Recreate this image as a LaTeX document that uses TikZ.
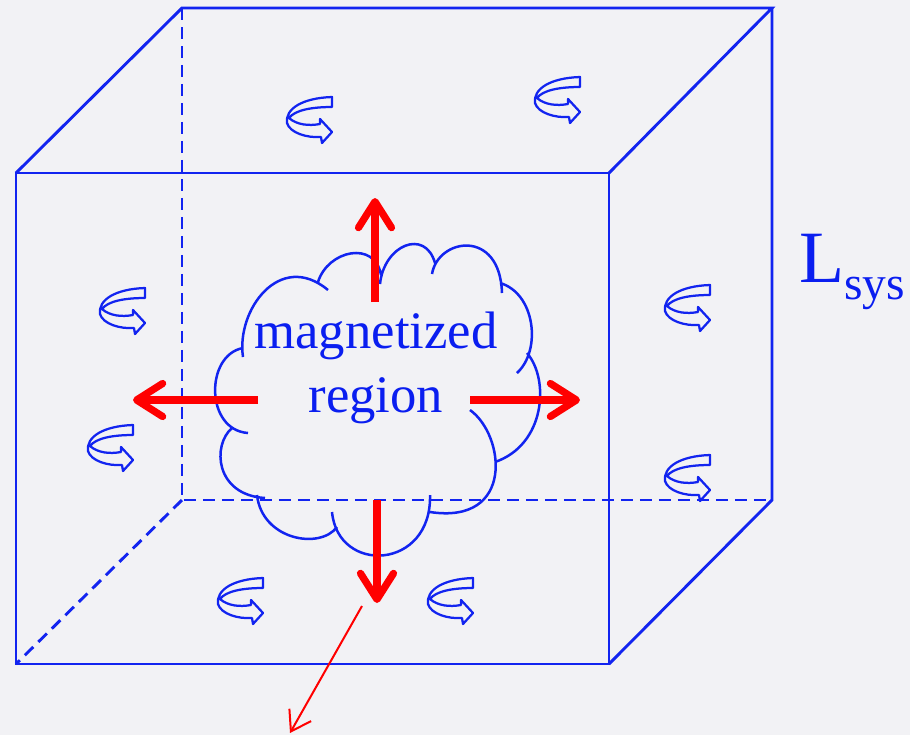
\documentclass[tikz,border=0pt]{standalone}
\usepackage{fontspec}
\setmainfont{Liberation Serif}
\usetikzlibrary{arrows.meta}
\definecolor{bg}{RGB}{242,242,245}
\definecolor{lineblue}{RGB}{18,36,240}
\definecolor{textblue}{RGB}{10,30,240}
\definecolor{fieldred}{RGB}{255,0,0}

\begin{document}
\begin{tikzpicture}[x=0.02cm,y=-0.02cm,
  edge/.style={draw=lineblue, line width=0.058cm, line join=miter},
  hidden/.style={edge, dash pattern=on 0.24cm off 0.14cm},
  outline/.style={draw=lineblue, line width=0.05cm},
  spinline/.style={draw=lineblue, line width=0.045cm, line join=round},
  flux/.style={draw=fieldred, line width=0.145cm, -{Straight Barb[length=0.52cm,width=0.66cm,round]}},
  leak/.style={draw=fieldred, line width=0.04cm, -{Straight Barb[length=0.38cm,width=0.5cm]}},
  spin/.pic={
    \draw[spinline] (45,0) -- (45,10)
      .. controls (25,10) and (8,13) .. (2,21)
      .. controls (10,28) and (22,29) .. (33,27)
      -- (33,22) -- (45,35) -- (35,46) -- (34,40)
      .. controls (20,41) and (3,36) .. (0,26)
      .. controls (-2,12) and (15,1) .. (45,0) -- cycle;
  }
]
% canvas
\fill[bg] (0,0) rectangle (910,735);
\useasboundingbox (0,0) rectangle (910,735);

% cube corners
\coordinate (fTL) at (16,173);
\coordinate (fTR) at (609,173);
\coordinate (fBR) at (609,664);
\coordinate (fBL) at (16,664);
\coordinate (bTL) at (182,8);
\coordinate (bTR) at (772,8);
\coordinate (bBR) at (772,500);
\coordinate (bBL) at (182,500);

% hidden edges
\draw[hidden] (bTL) -- (bBL) -- (bBR);
\draw[hidden] (bBL) -- (fBL);

% visible edges
\draw[edge] (fTL) -- (fTR) -- (fBR) -- (fBL) -- cycle;
\draw[edge] (fTL) -- (bTL) -- (bTR) -- (fTR);
\draw[edge] (bTR) -- (bBR) -- (fBR);

% cloud outline, one arc per lobe
\draw[outline]
  (243,357) .. controls (236,310) and (280,250) .. (328,290)
  (318,282) .. controls (328,250) and (375,240) .. (381,275)
  (380,284) .. controls (384,245) and (425,228) .. (435,263)
  (432,274) .. controls (438,238) and (500,228) .. (502,293)
  (500,283) .. controls (535,293) and (542,350) .. (517,373)
  (527,353) .. controls (550,380) and (545,445) .. (495,462)
  (470,410) .. controls (505,435) and (515,525) .. (430,512)
  (430,495) .. controls (432,570) and (338,575) .. (332,512)
  (257,495) .. controls (262,540) and (320,550) .. (337,527)
  (232,428) .. controls (212,445) and (215,495) .. (265,498)
  (243,348) .. controls (205,355) and (205,430) .. (248,433);

% label
\node[text=textblue, font=\fontsize{30}{36}\selectfont, align=center, inner sep=0pt]
  (label) at (376,368) {magnetized\\region};

% outward arrows
\coordinate (upS) at (375,302);
\coordinate (upE) at (375,198);
\coordinate (lfS) at (258,400);
\coordinate (lfE) at (133,400);
\coordinate (rtS) at (470,400);
\coordinate (rtE) at (580,400);
\coordinate (dnS) at (377,500);
\coordinate (dnE) at (377,603);
\coordinate (lkS) at (362,606);
\coordinate (lkE) at (290,733);
\draw[flux] (upS) -- (upE);
\draw[flux] (lfS) -- (lfE);
\draw[flux] (rtS) -- (rtE);
\draw[flux] (dnS) -- (dnE);
\draw[leak] (lkS) -- (lkE);

% spins
\pic at (287,97) {spin};
\pic at (535,77) {spin};
\pic at (100,288) {spin};
\pic at (88,425) {spin};
\pic at (665,285) {spin};
\pic at (665,455) {spin};
\pic at (218,578) {spin};
\pic at (428,578) {spin};

% system size label
\node[text=textblue, anchor=base west, inner sep=0pt, font=\fontsize{42}{48}\selectfont]
  (lsys) at (799,282) {L\raisebox{-10pt}{\fontsize{27}{30}\selectfont sys}};
\end{tikzpicture}
\end{document}
